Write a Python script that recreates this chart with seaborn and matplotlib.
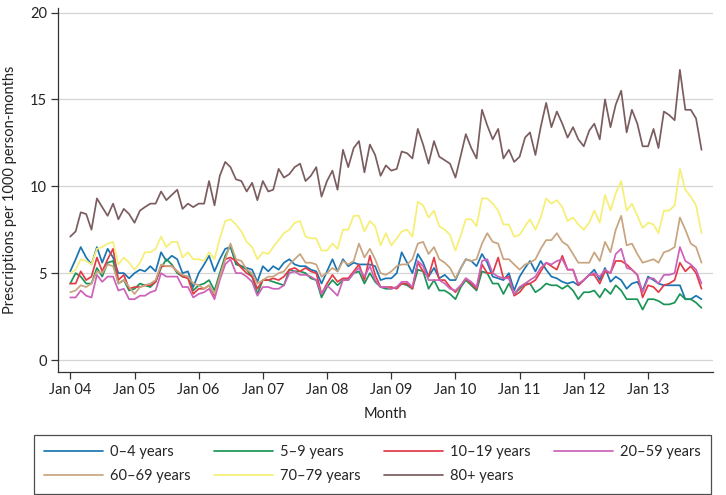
import matplotlib
matplotlib.use("Agg")
import matplotlib.pyplot as plt
import matplotlib.dates as mdates
import pandas as pd
import seaborn as sns

# monthly rates, Jan 2004 onwards
age_groups = ["0–4 years", "5–9 years", "10–19 years", "20–59 years",
              "60–69 years", "70–79 years", "80+ years"]

rate_0_4 = [
    5.1, 5.8, 6.5, 5.9, 5.5, 6.5, 5.6, 6.4, 5.9, 5.0, 5.0, 4.7, 5.0, 5.2, 5.1, 5.4, 5.1, 6.2, 5.7, 6.0,
    5.8, 5.0, 5.1, 4.2, 5.0, 5.5, 6.0, 5.1, 5.8, 6.4, 6.5, 5.6, 5.4, 5.3, 5.2, 4.5, 5.4, 5.1, 5.4, 5.2,
    5.6, 5.8, 5.5, 5.4, 5.4, 5.2, 5.1, 4.4, 5.1, 5.8, 5.1, 5.8, 5.4, 5.6, 5.5, 5.5, 5.5, 5.4, 4.6, 4.7,
    4.7, 5.0, 6.2, 5.6, 5.0, 6.1, 5.6, 4.8, 5.3, 4.7, 4.9, 4.6, 4.6, 5.3, 5.8, 5.7, 5.4, 6.1, 5.6, 4.8,
    4.7, 4.6, 5.0, 4.0, 4.8, 5.3, 5.7, 5.1, 5.7, 5.2, 4.8, 4.7, 4.5, 4.4, 4.5, 4.3, 4.6, 4.9, 5.2, 4.6,
    5.3, 4.5, 4.8, 4.6, 4.1, 4.4, 4.5, 4.0, 4.8, 4.6, 4.4, 4.3, 4.3, 4.3, 4.3, 3.5, 3.5, 3.7, 3.5,
]
rate_5_9 = [
    4.4, 5.0, 4.8, 4.4, 4.4, 5.3, 4.8, 5.6, 5.7, 4.4, 4.6, 4.0, 4.1, 4.4, 4.3, 4.2, 4.5, 5.3, 5.8, 5.5,
    5.0, 4.8, 4.8, 4.0, 4.3, 4.4, 4.6, 4.0, 5.0, 6.0, 6.6, 5.5, 5.4, 5.2, 4.8, 3.8, 4.6, 4.6, 4.5, 4.4,
    4.3, 5.2, 5.1, 5.1, 5.0, 4.7, 4.6, 3.6, 4.2, 4.6, 4.3, 4.6, 4.6, 5.0, 5.1, 4.4, 5.0, 4.5, 4.2, 4.1,
    4.1, 4.2, 4.4, 4.3, 4.1, 5.2, 5.1, 4.1, 4.6, 4.0, 4.0, 3.8, 3.5, 4.2, 4.6, 4.3, 4.0, 5.1, 5.0, 4.4,
    4.4, 3.8, 4.4, 3.8, 4.1, 4.4, 4.4, 3.9, 4.1, 4.4, 4.3, 4.3, 4.1, 4.3, 4.0, 3.5, 3.9, 3.9, 4.0, 3.6,
    4.1, 3.8, 4.3, 4.0, 3.5, 3.5, 3.5, 2.9, 3.5, 3.5, 3.4, 3.2, 3.2, 3.3, 3.8, 3.5, 3.5, 3.3, 3.0,
]
rate_10_19 = [
    4.4, 4.4, 5.1, 4.6, 4.8, 5.9, 5.1, 5.8, 6.4, 4.6, 4.9, 4.1, 4.2, 4.2, 4.3, 4.3, 4.5, 5.4, 5.4, 5.4,
    5.1, 4.8, 4.7, 3.8, 4.1, 4.1, 4.3, 3.7, 4.8, 5.8, 5.9, 5.7, 5.3, 5.0, 4.8, 4.1, 4.6, 4.6, 4.7, 4.6,
    4.8, 5.2, 5.3, 5.1, 5.3, 5.1, 5.0, 3.8, 4.4, 4.9, 4.5, 4.7, 4.7, 5.1, 5.5, 4.6, 6.0, 4.9, 4.2, 4.2,
    4.2, 4.1, 4.4, 4.4, 4.1, 5.6, 5.1, 4.8, 5.9, 4.6, 4.6, 4.2, 3.9, 4.3, 4.7, 4.4, 4.1, 5.5, 5.0, 5.0,
    5.9, 4.7, 4.8, 3.7, 3.9, 4.3, 4.4, 4.6, 5.1, 5.6, 5.4, 5.2, 6.0, 5.2, 5.2, 4.3, 4.6, 4.9, 4.9, 4.4,
    5.1, 5.0, 5.7, 5.7, 5.5, 5.2, 4.9, 3.6, 4.3, 4.2, 3.9, 4.3, 4.4, 4.6, 5.6, 5.1, 5.4, 5.0, 4.1,
]
rate_20_59 = [
    3.6, 3.6, 4.0, 3.7, 3.6, 4.9, 4.5, 4.8, 4.8, 4.0, 4.1, 3.5, 3.5, 3.7, 3.7, 3.9, 4.0, 5.0, 4.8, 4.8,
    4.8, 4.2, 4.2, 3.6, 3.8, 3.9, 4.1, 3.5, 4.6, 5.5, 5.8, 5.0, 5.0, 4.8, 4.5, 3.7, 4.2, 4.2, 4.1, 4.1,
    4.3, 5.0, 5.1, 4.9, 4.9, 4.8, 4.6, 3.8, 4.3, 4.0, 3.7, 4.6, 4.6, 5.0, 5.3, 4.8, 5.4, 4.6, 4.2, 4.2,
    4.1, 4.2, 4.5, 4.5, 4.2, 5.7, 5.4, 4.6, 4.6, 4.6, 4.4, 4.1, 4.0, 4.3, 4.7, 4.5, 4.2, 5.7, 5.8, 5.0,
    4.8, 4.7, 4.7, 3.8, 4.2, 4.4, 4.6, 4.8, 5.3, 5.6, 5.5, 5.7, 5.8, 5.2, 5.2, 4.4, 4.6, 4.9, 5.0, 4.8,
    5.2, 5.0, 6.1, 6.4, 5.3, 5.2, 4.9, 3.9, 4.7, 4.7, 4.4, 4.9, 4.9, 5.0, 6.5, 5.7, 5.5, 5.2, 4.4,
]
rate_60_69 = [
    3.9, 4.0, 4.3, 4.2, 4.4, 5.1, 5.0, 5.5, 5.4, 4.4, 4.6, 4.2, 3.8, 4.2, 4.3, 4.4, 4.6, 5.5, 5.4, 5.4,
    5.1, 4.9, 4.8, 4.4, 4.3, 4.1, 4.3, 3.8, 4.8, 5.8, 6.7, 5.8, 5.7, 5.2, 5.0, 4.4, 4.6, 4.8, 4.8, 5.0,
    5.1, 5.5, 5.8, 6.1, 5.6, 5.6, 5.5, 4.8, 5.0, 5.3, 5.1, 5.7, 5.5, 5.7, 6.7, 5.9, 6.4, 5.8, 5.0, 4.9,
    5.1, 5.4, 5.5, 5.5, 5.8, 6.7, 6.8, 6.1, 6.5, 5.8, 5.6, 5.3, 4.7, 5.3, 5.8, 5.7, 5.8, 6.7, 7.3, 6.8,
    6.7, 5.8, 5.8, 5.5, 5.2, 5.5, 5.6, 5.8, 6.4, 6.9, 6.9, 7.3, 6.8, 6.6, 6.1, 5.6, 5.6, 5.6, 6.2, 5.7,
    6.8, 6.2, 7.5, 8.3, 6.6, 6.7, 6.1, 5.6, 5.7, 5.8, 5.6, 6.2, 6.3, 6.5, 8.2, 7.5, 6.7, 6.5, 5.6,
]
rate_70_79 = [
    5.0, 5.2, 5.8, 5.7, 5.5, 6.4, 6.5, 6.7, 6.8, 5.5, 5.9, 5.6, 5.2, 5.6, 6.2, 6.2, 6.4, 7.1, 6.5, 6.8,
    6.8, 5.9, 6.2, 5.8, 5.8, 5.7, 6.2, 5.8, 7.0, 8.0, 8.1, 7.8, 7.4, 6.8, 6.5, 5.8, 6.2, 6.1, 6.5, 6.9,
    7.3, 7.5, 7.9, 8.0, 7.1, 7.0, 7.0, 6.3, 6.3, 6.7, 6.4, 7.5, 7.5, 8.3, 8.3, 7.4, 8.0, 7.7, 6.6, 7.3,
    6.6, 7.0, 7.4, 7.5, 7.1, 9.1, 8.9, 8.2, 8.6, 7.7, 7.5, 7.2, 6.3, 7.2, 8.1, 8.1, 7.7, 9.3, 9.3, 9.0,
    8.6, 7.8, 7.8, 7.1, 7.2, 7.7, 8.1, 7.5, 8.2, 9.3, 9.0, 9.2, 8.8, 8.0, 8.2, 7.8, 7.5, 7.9, 8.6, 7.9,
    9.5, 8.6, 9.6, 10.3, 8.6, 9.0, 8.3, 7.6, 7.9, 7.8, 7.3, 8.6, 8.6, 8.9, 11.0, 9.8, 9.4, 8.9, 7.3,
]
rate_80_plus = [
    7.1, 7.4, 8.5, 8.4, 7.5, 9.3, 8.8, 8.3, 9.0, 8.1, 8.7, 8.4, 7.9, 8.6, 8.8, 9.0, 9.0, 9.7, 9.2, 9.5,
    9.8, 8.7, 9.0, 8.8, 9.0, 9.0, 10.3, 8.9, 10.6, 11.4, 11.1, 10.4, 10.3, 9.7, 10.2, 9.2, 10.3, 9.7, 9.8, 11.0,
    10.5, 10.7, 11.1, 11.3, 10.3, 10.6, 11.1, 9.4, 10.3, 10.9, 9.8, 12.1, 11.1, 12.2, 12.6, 10.8, 12.4, 11.8, 10.6, 11.2,
    10.9, 11.0, 12.0, 11.9, 11.6, 13.3, 12.4, 11.3, 12.6, 11.7, 11.5, 11.3, 10.5, 11.8, 13.0, 12.2, 11.6, 14.4, 13.5, 12.7,
    13.3, 11.6, 12.1, 11.4, 11.7, 12.8, 13.1, 11.8, 13.4, 14.8, 13.4, 14.3, 13.6, 12.8, 13.4, 12.7, 12.3, 13.2, 13.6, 12.7,
    15.0, 13.4, 14.7, 15.5, 13.1, 14.4, 13.6, 12.3, 12.3, 13.3, 12.2, 14.3, 14.1, 13.8, 16.7, 14.4, 14.4, 13.9, 12.1,
]

colors = ["#1a75b4", "#1b9457", "#e33b47", "#cc62b9", "#c8a47f", "#f6ef75", "#7b5d5f"]

series = [rate_0_4, rate_5_9, rate_10_19, rate_20_59, rate_60_69, rate_70_79, rate_80_plus]
months = pd.date_range("2004-01-01", periods=len(rate_0_4), freq="MS")
frames = [pd.DataFrame({"month": months, "rate": vals, "group": name})
          for name, vals in zip(age_groups, series)]
df = pd.concat(frames, ignore_index=True)

sns.set_theme(style="white")
plt.rcParams["font.family"] = ["Lato", "DejaVu Sans"]

fig = plt.figure(figsize=(7.26, 4.95), dpi=100)
ax = fig.add_axes([0.080, 0.2485, 0.902, 0.735])

sns.lineplot(data=df, x="month", y="rate", hue="group", hue_order=age_groups,
             palette=colors, linewidth=1.25, ax=ax)

ax.set_ylim(-0.69, 20.25)
ax.set_xlim(pd.Timestamp("2003-10-24"), pd.Timestamp("2014-01-05"))
ax.set_yticks([0, 5, 10, 15, 20])
ax.yaxis.grid(True, color="#d5d5d5", linewidth=0.9)
ax.xaxis.grid(False)
ax.set_xticks(pd.date_range("2004-01-01", "2013-01-01", freq="YS"))
ax.xaxis.set_major_formatter(mdates.DateFormatter("Jan %y"))

for side in ["top", "right"]:
    ax.spines[side].set_visible(False)
for side in ["left", "bottom"]:
    ax.spines[side].set_color("#333333")
    ax.spines[side].set_linewidth(0.9)
ax.tick_params(axis="both", direction="out", length=5, width=0.9, color="#333333",
               labelsize=10.5, labelcolor="#222222", pad=3)
ax.tick_params(axis="x", bottom=True)
ax.tick_params(axis="y", left=True)

ax.set_xlabel("Month", fontsize=10.5, color="#222222", labelpad=7)
ax.set_ylabel("Prescriptions per 1000 person-months", fontsize=10.5, color="#222222")
ax.yaxis.set_label_coords(-0.062, 0.5)

handles, labels = ax.get_legend_handles_labels()
ax.get_legend().remove()
order = [0, 4, 1, 5, 2, 6, 3]
leg = fig.legend([handles[i] for i in order], [labels[i] for i in order],
                 ncol=4, mode="expand", loc="lower left",
                 bbox_to_anchor=(0.047, 0.003, 0.932, 0.12),
                 frameon=True, fancybox=False, fontsize=10.5,
                 handlelength=4.0, handletextpad=0.5, borderaxespad=0,
                 labelspacing=0.7, borderpad=0.7)
leg.get_frame().set_edgecolor("#222222")
leg.get_frame().set_linewidth(0.9)
for line in leg.get_lines():
    line.set_linewidth(1.25)

fig.savefig("out.png", dpi=100)
